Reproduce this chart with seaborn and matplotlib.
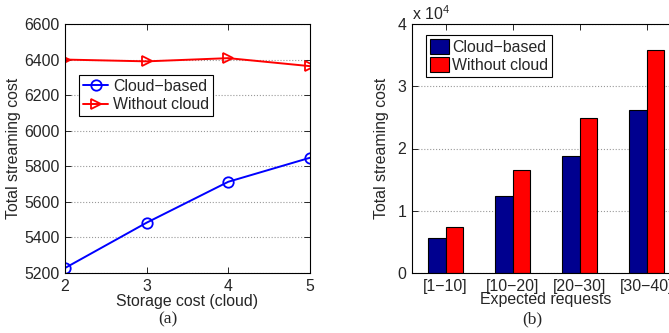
import numpy as np
import pandas as pd
import matplotlib
matplotlib.use("Agg")
import matplotlib.pyplot as plt
import seaborn as sns
from matplotlib.patches import Patch
from matplotlib.ticker import FuncFormatter

# ==============================
# DATA
# ==============================
storage_cost = [2, 3, 4, 5]
cloud_line = [5228, 5483, 5713, 5848]
nocloud_line = [6400, 6390, 6408, 6363]

request_bins = ["[1\u221210]", "[10\u221220]", "[20\u221230]", "[30\u221240]"]
cloud_bar = [5620, 12370, 18750, 26130]
nocloud_bar = [7390, 16500, 24850, 35870]

series_names = ["Cloud\u2212based", "Without cloud"]

# ==============================
# STYLE
# ==============================
sns.set_style("ticks")
plt.rcParams["font.family"] = ["Liberation Sans", "DejaVu Sans"]
plt.rcParams["mathtext.fontset"] = "custom"
plt.rcParams["mathtext.rm"] = "Liberation Sans"
FS = 11.4

fig = plt.figure(figsize=(6.69, 3.33), dpi=100)
W, H = 669, 333


def px_axes(x0, y0, x1, y1):
    return fig.add_axes([x0 / W, 1 - y1 / H, (x1 - x0) / W, (y1 - y0) / H])


def box_style(ax):
    for s in ax.spines.values():
        s.set_visible(True)
        s.set_linewidth(0.8)
        s.set_color("black")
    ax.tick_params(direction="in", top=True, right=True, length=4,
                   width=0.7, labelsize=FS, pad=4)
    ax.grid(axis="y", linestyle=":", color="#999999", linewidth=0.8)
    ax.set_axisbelow(True)


# ==============================
# (a) line chart
# ==============================
ax1 = px_axes(65, 24, 310, 273)
line_df = pd.DataFrame({"x": storage_cost, "cloud": cloud_line, "nocloud": nocloud_line})
sns.lineplot(data=line_df, x="x", y="cloud", ax=ax1, color="blue", marker="o",
             markersize=7.5, mfc="none", mec="blue", mew=1.3, lw=1.4,
             label=series_names[0])
sns.lineplot(data=line_df, x="x", y="nocloud", ax=ax1, color="red", marker=">",
             markersize=7.5, mfc="none", mec="red", mew=1.3, lw=1.4,
             label=series_names[1])
ax1.set_xlim(2, 5)
ax1.set_ylim(5200, 6600)
ax1.set_xticks(storage_cost)
ax1.set_yticks(np.arange(5200, 6601, 200))
box_style(ax1)
ax1.set_xlabel("Storage cost (cloud)", fontsize=FS, labelpad=0)
ax1.set_ylabel("Total streaming cost", fontsize=FS, labelpad=2)
leg1 = ax1.legend(loc="upper left", bbox_to_anchor=(0.057, 0.795),
                  borderaxespad=0, fancybox=False, edgecolor="black",
                  framealpha=1, fontsize=FS, handlelength=1.6,
                  handletextpad=0.3, borderpad=0.25, labelspacing=0.2)
leg1.get_frame().set_linewidth(0.8)

# ==============================
# (b) grouped bar chart
# ==============================
ax2 = px_axes(412, 24, 680, 273)
bar_df = pd.DataFrame({
    "req": request_bins * 2,
    "cost": cloud_bar + nocloud_bar,
    "method": [series_names[0]] * 4 + [series_names[1]] * 4,
})
sns.barplot(data=bar_df, x="req", y="cost", hue="method", ax=ax2,
            palette=["#00008F", "#FF0000"], width=0.52, edgecolor="black",
            linewidth=0.8, errorbar=None, saturation=1)
ax2.set_xlim(-0.5, 3.5)
ax2.set_ylim(0, 40000)
ax2.set_yticks(np.arange(0, 40001, 10000))
ax2.yaxis.set_major_formatter(FuncFormatter(lambda v, p: f"{v / 1e4:g}"))
box_style(ax2)
ax2.set_xlabel("Expected requests", fontsize=FS, labelpad=-1)
ax2.set_ylabel("Total streaming cost", fontsize=FS, labelpad=6)
ax2.text(0.0, 1.005, r"x 10$^{4}$", transform=ax2.transAxes,
         ha="left", va="bottom", fontsize=FS)
handles = [Patch(facecolor="#00008F", edgecolor="black", lw=0.8),
           Patch(facecolor="#FF0000", edgecolor="black", lw=0.8)]
leg2 = ax2.legend(handles, series_names, loc="upper left",
                  bbox_to_anchor=(0.052, 0.956), borderaxespad=0,
                  fancybox=False, edgecolor="black", framealpha=1,
                  fontsize=FS, handlelength=1.2, handleheight=1.1,
                  handletextpad=0.2, borderpad=0.25, labelspacing=0.15)
leg2.get_frame().set_linewidth(0.8)

# ==============================
# panel captions
# ==============================
fig.text(168 / W, 1 - 319 / H, "(a)", ha="center", va="center",
         fontsize=12.5, family=["Liberation Serif", "DejaVu Serif"])
fig.text(532 / W, 1 - 319 / H, "(b)", ha="center", va="center",
         fontsize=12.5, family=["Liberation Serif", "DejaVu Serif"])

fig.savefig("out.png", dpi=100)
